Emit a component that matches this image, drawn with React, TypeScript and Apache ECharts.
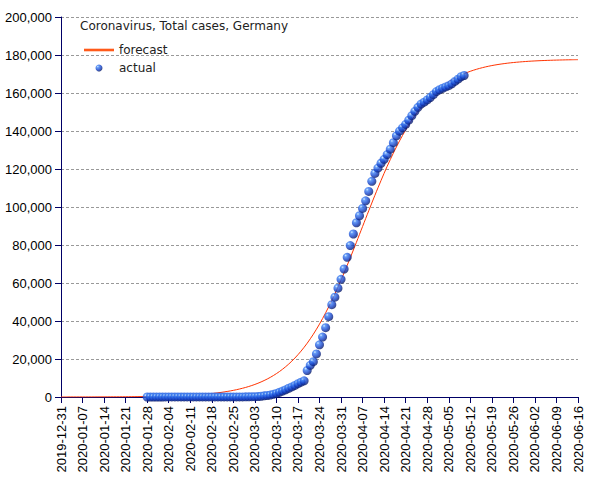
import React, { useEffect, useRef } from "react";
import * as echarts from "echarts";

// Day 0 of the x axis is 2019-12-31; ticks every 7 days up to 2020-06-16 (day 168)
const AXIS_START = "2019-12-31";
const AXIS_DAYS = 168;
const TICK_DAYS = 7;

// Actual total cases, one value per day starting 2020-01-28
const actualStart = "2020-01-28";
const actualValues: (number | null)[] = [
  4, 4, 4, 5, 8, 10, 12, 12, 12, 13, 13, 14, 14, 14, 16, 16, 16, 16, 16, 16,
  16, 16, 16, 16, 16, 16, 16, 16, 17, 21, 26, 53, 66,
  117, 150, 188, 240, 400, 600, 800, 1000, 1400, 1900, 2500, 3100, 3800, 4600,
  5300, 6100, 7000, 7800, 8500, 13957, 16662, 18610, 22672, 27436, 31554,
  36508, 42288, 48582, 52547, 57298, 61913, 67366, 73522, 79696, 85778, 91714,
  95391, 99225, 103228, 108202, 113525, 117658, 120479, 123016, 125098, 127584,
  130450, 133830, 137439, 139897, 141672, 143457, 145694, 148046, 150383,
  152438, 154175, 155193, 156337, 157641, 159119, 160758, 161703, 162496,
  163175, 163860, 164807, 166091, 167300, 168551, 169218,
];

// Forecast total cases, one value every 2 days starting 2019-12-31
const forecastStart = "2019-12-31";
const forecastStepDays = 2;
const forecastValues: number[] = [
  19, 23, 28, 33, 40, 48, 58, 70, 85, 102, 123, 148, 179, 216, 260, 314, 378,
  455, 549, 661, 796, 959, 1155, 1390, 1674, 2014, 2422, 2915, 3500, 4205, 5041,
  6043, 7236, 8652, 10327, 12304, 14622, 17341, 20496, 24138, 28307, 33048,
  38377, 44306, 50814, 57855, 65368, 73290, 81443, 89753, 98015, 106149,
  113974, 121448, 128375, 134746, 140553, 145768, 150384, 154448, 158000,
  161051, 163674, 165921, 167833, 169462, 170830, 171971, 172940, 173752,
  174433, 174997, 175467, 175866, 176188, 176460, 176687, 176877, 177033,
  177164, 177272, 177362, 177436, 177498, 177550,
];

const Y_MAX = 200000;
const Y_STEP = 20000;
const TITLE = "Coronavirus, Total cases, Germany";

const DAY_MS = 86400000;
const dayOf = (iso: string) =>
  Math.round((Date.parse(iso + "T00:00:00Z") - Date.parse(AXIS_START + "T00:00:00Z")) / DAY_MS);
const dateOf = (d: number) =>
  new Date(Date.parse(AXIS_START + "T00:00:00Z") + d * DAY_MS).toISOString().slice(0, 10);

const NAVY = "#000066";
const AXIS_FONT = "Liberation Sans, Arial, sans-serif";
const TEXT_FONT = "DejaVu Sans, Verdana, sans-serif";

export default function App() {
  const ref = useRef<HTMLDivElement>(null);

  useEffect(() => {
    if (!ref.current) return;
    const chart = echarts.init(ref.current, undefined, { renderer: "svg" });

    const a0 = dayOf(actualStart);
    const actualData = actualValues
      .map((v, i) => (v == null ? null : [a0 + i, v]))
      .filter((p) => p !== null);
    const f0 = dayOf(forecastStart);
    const forecastData = forecastValues.map((v, i) => [f0 + i * forecastStepDays, v]);

    const ball = new echarts.graphic.RadialGradient(0.33, 0.3, 0.8, [
      { offset: 0, color: "#cdeaff" },
      { offset: 0.2, color: "#3f82f5" },
      { offset: 0.58, color: "#1442c8" },
      { offset: 1, color: "#040e4e" },
    ]);

    chart.setOption({
      animation: false,
      title: {
        text: TITLE,
        left: 75,
        top: 15,
        textStyle: { fontFamily: TEXT_FONT, fontSize: 12, fontWeight: "normal", color: "#222" },
      },
      legend: {
        orient: "vertical",
        left: 79,
        top: 39,
        itemWidth: 30,
        itemHeight: 7,
        itemGap: 6,
        textStyle: { fontFamily: TEXT_FONT, fontSize: 12, color: "#222" },
        data: [
          { name: "forecast", icon: "path://M0,0H30V2.6H0Z", itemStyle: { color: "#ff5a1a" } },
          { name: "actual", icon: "circle" },
        ],
      },
      grid: { left: 61, right: 27, top: 17, bottom: 83, containLabel: false },
      xAxis: {
        type: "value",
        min: 0,
        max: AXIS_DAYS,
        interval: TICK_DAYS,
        axisLine: { show: true, lineStyle: { color: NAVY, width: 1 } },
        axisTick: { show: true, length: 6, lineStyle: { color: NAVY } },
        splitLine: { show: false },
        axisLabel: {
          rotate: 90,
          margin: 9,
          fontFamily: AXIS_FONT,
          fontSize: 13,
          color: "#000",
          formatter: (v: number) => dateOf(v),
        },
      },
      yAxis: {
        type: "value",
        min: 0,
        max: Y_MAX,
        interval: Y_STEP,
        axisLine: { show: true, lineStyle: { color: NAVY, width: 1 } },
        axisTick: { show: true, length: 6, lineStyle: { color: NAVY } },
        splitLine: { show: true, lineStyle: { color: "#999", type: [3, 2], width: 1 } },
        axisLabel: {
          margin: 9,
          fontFamily: AXIS_FONT,
          fontSize: 13,
          color: "#000",
          formatter: (v: number) => v.toLocaleString("en-US"),
        },
      },
      series: [
        {
          name: "forecast",
          type: "line",
          data: forecastData,
          showSymbol: false,
          smooth: 0.3,
          lineStyle: { color: "#ff3300", width: 1 },
          itemStyle: { color: "#ff5a1a" },
          z: 2,
        },
        {
          name: "actual",
          type: "scatter",
          data: actualData,
          symbol: "circle",
          symbolSize: 9,
          itemStyle: { color: ball },
          z: 3,
        },
      ],
    });

    return () => chart.dispose();
  }, []);

  return <div ref={ref} style={{ width: 605, height: 480, position: "absolute", left: 0, top: 0 }} />;
}
